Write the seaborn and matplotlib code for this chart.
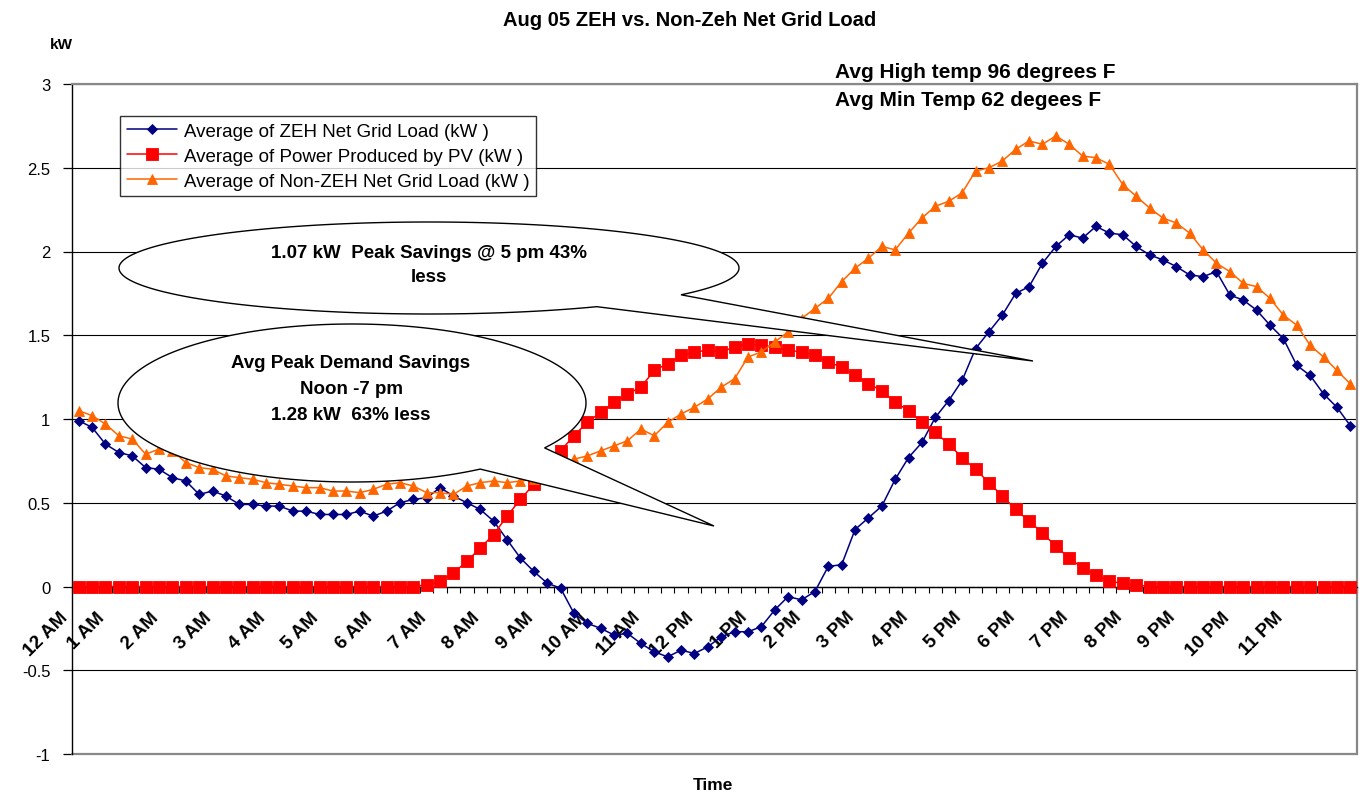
import numpy as np
import pandas as pd
import matplotlib
matplotlib.use("Agg")
import matplotlib.pyplot as plt
import matplotlib.transforms as mtrans
import seaborn as sns
from matplotlib.patches import Polygon

# ---- data: 96 quarter-hour averages, 12 AM .. 11:45 PM ----
zeh_load = [0.99, 0.95, 0.85, 0.80, 0.78, 0.71, 0.70, 0.65, 0.63, 0.55, 0.57, 0.54,
            0.49, 0.49, 0.48, 0.48, 0.45, 0.45, 0.43, 0.43, 0.43, 0.45, 0.42, 0.45,
            0.50, 0.52, 0.53, 0.59, 0.54, 0.50, 0.46, 0.39, 0.28, 0.17, 0.09, 0.02,
            -0.01, -0.16, -0.22, -0.25, -0.29, -0.28, -0.34, -0.39, -0.42, -0.38, -0.40, -0.36,
            -0.30, -0.27, -0.27, -0.24, -0.14, -0.06, -0.08, -0.03, 0.12, 0.13, 0.34, 0.41,
            0.48, 0.64, 0.77, 0.86, 1.01, 1.11, 1.23, 1.42, 1.52, 1.62, 1.75, 1.79,
            1.93, 2.03, 2.10, 2.08, 2.15, 2.11, 2.10, 2.03, 1.98, 1.95, 1.91, 1.86,
            1.85, 1.88, 1.74, 1.71, 1.65, 1.56, 1.48, 1.32, 1.26, 1.15, 1.07, 0.96]

pv_power = [0.0] * 26 + [
            0.01, 0.03, 0.08, 0.15, 0.23, 0.31, 0.42, 0.52, 0.61, 0.71,
            0.81, 0.90, 0.98, 1.04, 1.10, 1.15, 1.19, 1.29, 1.33, 1.38, 1.40, 1.41,
            1.40, 1.43, 1.45, 1.44, 1.43, 1.41, 1.40, 1.38, 1.34, 1.31, 1.26, 1.21,
            1.17, 1.10, 1.05, 0.98, 0.92, 0.85, 0.77, 0.70, 0.62, 0.54, 0.46, 0.39,
            0.32, 0.24, 0.17, 0.11, 0.07, 0.03, 0.02, 0.01] + [0.0] * 16

non_zeh_load = [1.05, 1.02, 0.97, 0.90, 0.88, 0.79, 0.82, 0.81, 0.74, 0.71, 0.70, 0.66,
                0.65, 0.64, 0.62, 0.61, 0.60, 0.59, 0.59, 0.57, 0.57, 0.56, 0.58, 0.61,
                0.62, 0.60, 0.56, 0.56, 0.55, 0.60, 0.62, 0.63, 0.62, 0.63, 0.64, 0.68,
                0.72, 0.76, 0.78, 0.81, 0.84, 0.87, 0.94, 0.90, 0.98, 1.03, 1.07, 1.12,
                1.19, 1.24, 1.37, 1.40, 1.46, 1.52, 1.60, 1.66, 1.72, 1.82, 1.90, 1.96,
                2.03, 2.01, 2.11, 2.20, 2.27, 2.30, 2.35, 2.48, 2.50, 2.54, 2.61, 2.66,
                2.64, 2.69, 2.64, 2.57, 2.56, 2.52, 2.40, 2.33, 2.26, 2.20, 2.17, 2.11,
                2.01, 1.93, 1.88, 1.81, 1.79, 1.72, 1.62, 1.56, 1.44, 1.37, 1.29, 1.21]

hour_labels = ["12 AM", "1 AM", "2 AM", "3 AM", "4 AM", "5 AM", "6 AM", "7 AM",
               "8 AM", "9 AM", "10 AM", "11 AM", "12 PM", "1 PM", "2 PM", "3 PM",
               "4 PM", "5 PM", "6 PM", "7 PM", "8 PM", "9 PM", "10 PM", "11 PM"]

series_names = ["Average of ZEH Net Grid Load (kW )",
                "Average of Power Produced by PV (kW )",
                "Average of Non-ZEH Net Grid Load (kW )"]

slots = np.arange(len(zeh_load))

sns.set_style("white")
plt.rcParams['font.family'] = ['Liberation Sans', 'DejaVu Sans']
plt.rcParams['text.color'] = 'black'
plt.rcParams['xtick.color'] = 'black'
plt.rcParams['ytick.color'] = 'black'
plt.rcParams['xtick.labelcolor'] = 'black'
plt.rcParams['ytick.labelcolor'] = 'black'

W, H = 1360, 804
fig = plt.figure(figsize=(13.6, 8.04), dpi=100)
ax = fig.add_axes([72 / W, 1 - 755 / H, (1357 - 72) / W, (755 - 85) / H])

# ---- the three series ----
styles = [
    (zeh_load, '#000080', 'D', 5.2),
    (pv_power, '#FF0000', 's', 8.0),
    (non_zeh_load, '#FF6600', '^', 7.8),
]
for (vals, col, mk, ms), name in zip(styles, series_names):
    sns.lineplot(x=slots, y=vals, ax=ax, color=col, marker=mk, markersize=ms,
                 markeredgecolor=col, markeredgewidth=0.6, linewidth=1.1,
                 label=name, zorder=3)

# ---- axes ----
ax.set_xlim(-0.5, len(slots) - 0.5)
ax.set_ylim(-1, 3)
ax.set_yticks(np.arange(-1, 3.01, 0.5))
ax.set_yticklabels(["-1", "-0.5", "0", "0.5", "1", "1.5", "2", "2.5", "3"])
ax.yaxis.grid(True, color='black', linewidth=0.8)
ax.set_axisbelow(True)
ax.set_xlabel("")
ax.set_ylabel("")
# plot-area border at the bottom (the category axis sits at 0)
ax.axhline(-1, color='#888888', linewidth=1.6, clip_on=False, zorder=1)

ax.spines['bottom'].set_position(('data', 0))
ax.spines['bottom'].set_color('black')
ax.spines['left'].set_color('black')
ax.spines['top'].set_color('#888888')
ax.spines['right'].set_color('#888888')
for s in ax.spines.values():
    s.set_linewidth(1.0)
ax.spines['top'].set_linewidth(1.6)
ax.spines['right'].set_linewidth(1.6)

ax.tick_params(axis='y', direction='out', length=6.5, width=0.9, color='black',
               pad=9, labelsize=12, left=True, labelcolor='black')
ax.set_xticks(slots[::4])
ax.set_xticklabels(hour_labels, fontsize=13.5, fontweight='bold', rotation=45,
                   ha='right', va='center', rotation_mode='anchor', color='black')
ax.set_xticks(np.arange(-0.5, len(slots), 1), minor=True)
ax.tick_params(axis='x', which='major', length=0, pad=20)
ax.tick_params(axis='x', which='minor', direction='out', length=4.5, width=0.8,
               color='black', bottom=True)

# shift the rotated labels so their ends sit left of the category
for i, lab in enumerate(ax.get_xticklabels()):
    dx = -13 if i == 0 else -30
    lab.set_transform(lab.get_transform() +
                      mtrans.ScaledTranslation(dx / 100, 0, fig.dpi_scale_trans))

leg = ax.legend(loc='upper left', bbox_to_anchor=((120 - 72) / 1285, 1 - (117 - 85) / 670),
                borderaxespad=0, frameon=True, fancybox=False, fontsize=13.5,
                handlelength=2.7, handletextpad=0.35, labelspacing=0.42,
                borderpad=0.35)
leg.get_frame().set_edgecolor('black')
leg.get_frame().set_linewidth(1.0)
leg.set_zorder(6)
for t in leg.get_texts():
    t.set_color('black')


# ---- callout bubbles (pixel layout, y from top) ----
def callout(cx, cy, a, b, notch, base, tip):
    t1 = np.arctan2((notch[1] - cy) / b, (notch[0] - cx) / a)
    t2 = np.arctan2((base[1] - cy) / b, (base[0] - cx) / a)
    if t1 < t2:
        t1 += 2 * np.pi
    ts = np.linspace(t2, t1, 300)
    pts = [(cx + a * np.cos(t), cy + b * np.sin(t)) for t in ts] + [tip]
    pts = [(x / W, 1 - y / H) for x, y in pts]
    poly = Polygon(pts, closed=True, facecolor='white', edgecolor='black',
                   linewidth=1.0, transform=fig.transFigure, zorder=4, clip_on=False)
    ax.add_patch(poly)


callout(429, 269, 310, 46, (683, 296), (596, 307.5), (1033, 362))
callout(352, 404, 234, 79, (545, 449), (482, 471), (714, 527))

txt = dict(fontsize=13.5, fontweight='bold', ha='center', va='center', color='black')
fig.text(429 / W, 1 - 253 / H, "1.07 kW  Peak Savings @ 5 pm 43%", **txt)
fig.text(429 / W, 1 - 278 / H, "less", **txt)
fig.text(351 / W, 1 - 364 / H, "Avg Peak Demand Savings", **txt)
fig.text(351 / W, 1 - 390 / H, "Noon -7 pm", **txt)
fig.text(351 / W, 1 - 416 / H, "1.28 kW  63% less", **txt)

# ---- titles and notes ----
fig.text(690 / W, 1 - 20 / H, "Aug 05 ZEH vs. Non-Zeh Net Grid Load",
         fontsize=14.5, fontweight='bold', ha='center', va='center')
fig.text(61 / W, 1 - 45 / H, "kW", fontsize=11, fontweight='bold',
         ha='center', va='center')
fig.text(713 / W, 1 - 786 / H, "Time", fontsize=12.5, fontweight='bold',
         ha='center', va='center')
fig.text(835 / W, 1 - 73 / H, "Avg High temp 96 degrees F", fontsize=15,
         fontweight='bold', ha='left', va='center')
fig.text(835 / W, 1 - 101 / H, "Avg Min Temp 62 degees F", fontsize=15,
         fontweight='bold', ha='left', va='center')

fig.savefig("out.png", dpi=100)
